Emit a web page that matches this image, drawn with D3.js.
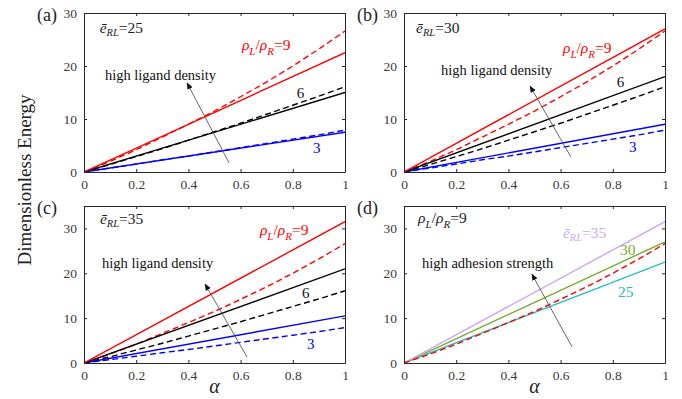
<!DOCTYPE html>
<html lang="en">
<head>
<meta charset="UTF-8">
<title>Dimensionless Energy</title>
<script src="https://d3js.org/d3.v7.min.js"></script>
<style>
    body { margin: 0; background: #fff; }
    svg text { font-family: "Liberation Serif", "DejaVu Serif", serif; }
    .tick line { stroke: #262626; }
    .domain { stroke: #262626; }
</style>
</head>
<body>
<div id="chart"></div>
<script>
// alpha values
const alphaEnds = [0, 1];
const alphaGrid = [0, 0.1, 0.2, 0.3, 0.4, 0.5, 0.6, 0.7, 0.8, 0.9, 1.0];

// solid lines (rho_L/rho_R = 3, 6, 9) for each adhesion strength
const solidE25 = [[0, 7.5], [0, 15.0], [0, 22.5]];
const solidE30 = [[0, 9.0], [0, 18.0], [0, 27.0]];
const solidE35 = [[0, 10.5], [0, 21.0], [0, 31.5]];

// dashed lines (same in every panel)
const dashedR3 = [0, 0.75, 1.5, 2.3, 3.0, 3.8, 4.6, 5.4, 6.2, 7.0, 7.9];
const dashedR6 = [0, 1.4, 2.9, 4.4, 6.0, 7.6, 9.2, 10.9, 12.6, 14.3, 16.1];
const dashedR9 = [0, 2.0, 4.2, 6.6, 9.0, 11.5, 14.2, 17.0, 20.0, 23.2, 26.6];

const xTicks = [0, 0.2, 0.4, 0.6, 0.8, 1];
const yTicks = [0, 10, 20, 30];

const ratioColors = ["#0000ff", "#000000", "#ff0000"];
const strengthColors = ["#22bcbc", "#77ac30", "#cfa6f5"];

const W = 682, H = 399;
const svg = d3.select("#chart").append("svg")
    .attr("width", W).attr("height", H);

const panels = [
    { id: "(a)", x0: 84, x1: 345, y0: 13, y1: 172, ymax: 30, solid: solidE25, e: 25 },
    { id: "(b)", x0: 404, x1: 665, y0: 13, y1: 172, ymax: 30, solid: solidE30, e: 30 },
    { id: "(c)", x0: 84, x1: 345, y0: 206, y1: 363, ymax: 35, solid: solidE35, e: 35 },
    { id: "(d)", x0: 404, x1: 665, y0: 206, y1: 363, ymax: 35 }
];

// annotation spots in data coordinates [alpha, energy]
const notes = {
    "(a)": { e: [0.06, 26.2], rho: [0.605, 23.0], txt: [0.08, 17.4], six: [0.815, 14.0], three: [0.877, 3.6], arrow: [[0.556, 1.7], [0.395, 16.8]] },
    "(b)": { e: [0.046, 26.2], rho: [0.609, 22.5], txt: [0.142, 18.3], six: [0.815, 16.0], three: [0.862, 3.8], arrow: [[0.64, 2.8], [0.483, 16.2]] },
    "(c)": { e: [0.061, 31.0], rho: [0.674, 28.5], txt: [0.069, 21.2], six: [0.835, 14.5], three: [0.854, 3.1], arrow: [[0.625, 1.3], [0.464, 17.6]] },
    "(d)": { rho: [0.054, 31.2], e35: [0.609, 27.8], e30: [0.828, 24.1], txt: [0.069, 21.2], e25: [0.82, 14.7], arrow: [[0.644, 3.6], [0.49, 19.8]] }
};

svg.append("defs").append("marker")
    .attr("id", "head")
    .attr("viewBox", "0 0 10 10")
    .attr("refX", 9).attr("refY", 5)
    .attr("markerWidth", 7).attr("markerHeight", 7)
    .attr("markerUnits", "userSpaceOnUse")
    .attr("orient", "auto")
    .append("path")
    .attr("d", "M0,1 L10,5 L0,9 z")
    .attr("fill", "#111");

function eLabel(g, x, y, value, color) {
    const t = g.append("text").attr("x", x).attr("y", y)
        .attr("fill", color).attr("font-size", 15.5);
    t.append("tspan").attr("font-style", "italic").text("ē");
    t.append("tspan").attr("font-style", "italic").attr("font-size", 10.5)
        .attr("dy", 3).text("RL");
    t.append("tspan").attr("dy", -3).text("=" + value);
}

function rhoLabel(g, x, y, color) {
    const t = g.append("text").attr("x", x).attr("y", y)
        .attr("fill", color).attr("font-size", 15.5);
    t.append("tspan").attr("font-style", "italic").text("ρ");
    t.append("tspan").attr("font-style", "italic").attr("font-size", 11)
        .attr("dy", 5).text("L");
    t.append("tspan").attr("dy", -5).text("/");
    t.append("tspan").attr("font-style", "italic").text("ρ");
    t.append("tspan").attr("font-style", "italic").attr("font-size", 11)
        .attr("dy", 5).text("R");
    t.append("tspan").attr("dy", -5).text("=9");
}

function serifAxis(sel) {
    sel.attr("font-family", null).attr("font-size", null);
    sel.selectAll(".tick text")
        .attr("font-family", "Liberation Serif, serif")
        .attr("font-size", 13.5)
        .attr("fill", "#3a3a3a");
}

panels.forEach(p => {
    const x = d3.scaleLinear().domain([0, 1]).range([p.x0, p.x1]);
    const y = d3.scaleLinear().domain([0, p.ymax]).range([p.y1, p.y0]);
    const g = svg.append("g");

    const lineEnds = d3.line().x((d, i) => x(alphaEnds[i])).y(d => y(d));
    const lineGrid = d3.line().x((d, i) => x(alphaGrid[i])).y(d => y(d));

    const clip = "clip" + p.id.replace(/\W/g, "");
    g.append("clipPath").attr("id", clip).append("rect")
        .attr("x", p.x0).attr("y", p.y0)
        .attr("width", p.x1 - p.x0).attr("height", p.y1 - p.y0);
    const plot = g.append("g").attr("clip-path", `url(#${clip})`);

    if (p.solid) {
        [dashedR3, dashedR6, dashedR9].forEach((s, i) => {
            plot.append("path").attr("d", lineGrid(s))
                .attr("fill", "none").attr("stroke", ratioColors[i])
                .attr("stroke-width", 1.4).attr("stroke-dasharray", "6,3.5");
        });
        p.solid.forEach((s, i) => {
            plot.append("path").attr("d", lineEnds(s))
                .attr("fill", "none").attr("stroke", ratioColors[i])
                .attr("stroke-width", 1.4);
        });
    } else {
        [solidE25[2], solidE30[2], solidE35[2]].forEach((s, i) => {
            plot.append("path").attr("d", lineEnds(s))
                .attr("fill", "none").attr("stroke", strengthColors[i])
                .attr("stroke-width", 1.4);
        });
        plot.append("path").attr("d", lineGrid(dashedR9))
            .attr("fill", "none").attr("stroke", "#ff0000")
            .attr("stroke-width", 1.4).attr("stroke-dasharray", "6,3.5");
    }

    // axes box with inward ticks
    g.append("g").attr("transform", `translate(0,${p.y1})`)
        .call(d3.axisBottom(x).tickValues(xTicks).tickSizeInner(-3).tickSizeOuter(0)
            .tickPadding(7).tickFormat(d3.format("~g")))
        .call(serifAxis);
    g.append("g").attr("transform", `translate(0,${p.y0})`)
        .call(d3.axisTop(x).tickValues(xTicks).tickSizeInner(-3).tickSizeOuter(0).tickFormat(""));
    g.append("g").attr("transform", `translate(${p.x0},0)`)
        .call(d3.axisLeft(y).tickValues(yTicks).tickSizeInner(-3).tickSizeOuter(0).tickPadding(7))
        .call(serifAxis);
    g.append("g").attr("transform", `translate(${p.x1},0)`)
        .call(d3.axisRight(y).tickValues(yTicks).tickSizeInner(-3).tickSizeOuter(0).tickFormat(""));

    // panel letter
    g.append("text").attr("x", p.x0 - 47).attr("y", p.y0 + 8)
        .attr("font-size", 18).attr("fill", "#222").text(p.id);

    // x label on the bottom row
    if (p.y0 > 100) {
        g.append("text").attr("x", (p.x0 + p.x1) / 2).attr("y", H - 6)
            .attr("text-anchor", "middle").attr("font-size", 20)
            .attr("font-style", "italic").attr("fill", "#222")
            .text("α");
    }

    const n = notes[p.id];
    const at = v => [x(v[0]), y(v[1])];
    if (p.solid) {
        eLabel(g, ...at(n.e), p.e, "#222");
        rhoLabel(g, ...at(n.rho), "#ff0000");
        g.append("text").attr("x", at(n.six)[0]).attr("y", at(n.six)[1])
            .attr("font-size", 15).attr("fill", "#111").text("6");
        g.append("text").attr("x", at(n.three)[0]).attr("y", at(n.three)[1])
            .attr("font-size", 15).attr("fill", "#0000ff").text("3");
        g.append("text").attr("x", at(n.txt)[0]).attr("y", at(n.txt)[1])
            .attr("font-size", 14.5).attr("fill", "#111").text("high ligand density");
    } else {
        rhoLabel(g, ...at(n.rho), "#222");
        eLabel(g, ...at(n.e35), 35, strengthColors[2]);
        g.append("text").attr("x", at(n.e30)[0]).attr("y", at(n.e30)[1])
            .attr("font-size", 15.5).attr("fill", strengthColors[1]).text("30");
        g.append("text").attr("x", at(n.e25)[0]).attr("y", at(n.e25)[1])
            .attr("font-size", 15.5).attr("fill", strengthColors[0]).text("25");
        g.append("text").attr("x", at(n.txt)[0]).attr("y", at(n.txt)[1])
            .attr("font-size", 14.5).attr("fill", "#111").text("high adhesion strength");
    }
    g.append("line")
        .attr("x1", at(n.arrow[0])[0]).attr("y1", at(n.arrow[0])[1])
        .attr("x2", at(n.arrow[1])[0]).attr("y2", at(n.arrow[1])[1])
        .attr("stroke", "#555").attr("stroke-width", 0.9)
        .attr("marker-end", "url(#head)");
});

// shared y label
svg.append("text")
    .attr("transform", "translate(31,180) rotate(-90)")
    .attr("text-anchor", "middle").attr("font-size", 19).attr("fill", "#222")
    .text("Dimensionless Energy");
</script>
</body>
</html>
